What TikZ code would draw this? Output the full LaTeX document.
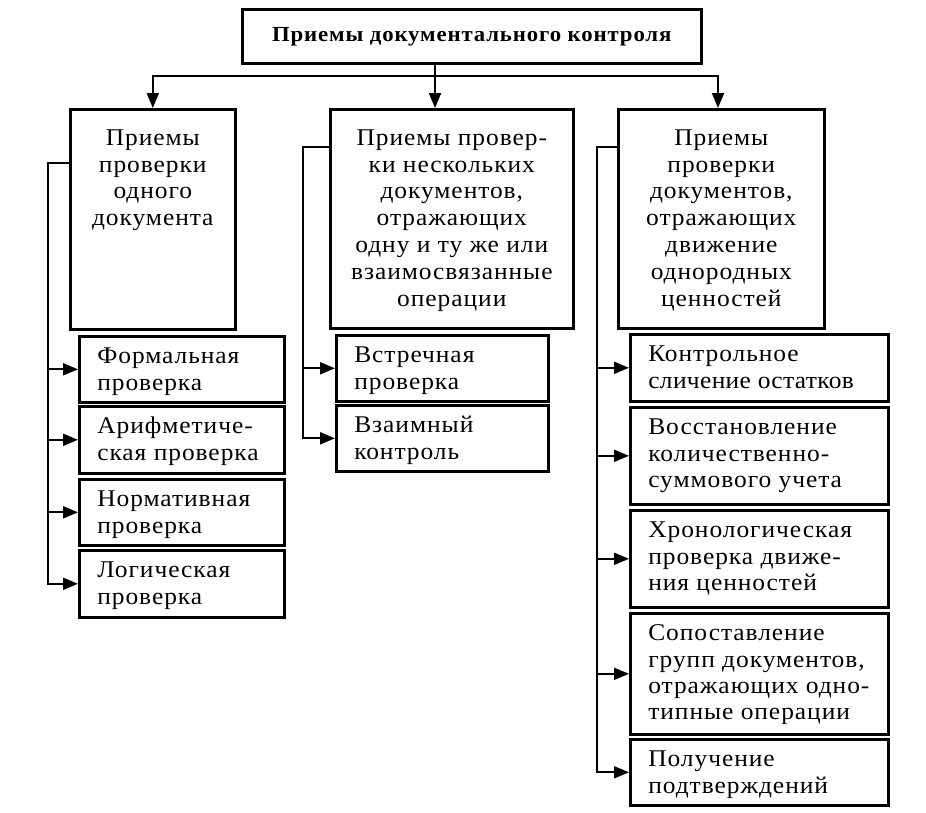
\documentclass[tikz,border=0pt]{standalone}
\usepackage{fontspec}
\setmainfont{Liberation Serif}[FakeStretch=1.06, LetterSpace=4]
\usetikzlibrary{arrows.meta}
\newcommand{\ptext}[3]{\parbox[t][#2][t]{#1}{\fontsize{24}{26.8}\selectfont\centering\rule{0pt}{36pt}#3}}
\newcommand{\ctext}[3]{\parbox[t][#2][t]{#1}{\fontsize{24}{26.3}\selectfont\raggedright\leftskip=18pt\rule{0pt}{27.5pt}#3}}
\tikzset{
  box/.style={draw, line width=2.6pt, inner sep=0pt, anchor=north west},
  link/.style={line width=2pt},
  arr/.style={link, -{Triangle[length=15pt,width=12pt]}}
}
\begin{document}
\begin{tikzpicture}[x=1pt,y=-1pt]
\useasboundingbox (0,0) rectangle (926,812);
% title
\node[box] (title) at (241,8) {\parbox[c][54pt][c]{459pt}{\centering\fontsize{21.5}{26}\selectfont\bfseries Приемы документального контроля}};
% parent boxes
\node[box] (A) at (69,108) {\ptext{165pt}{220pt}{Приемы\\проверки\\одного\\документа}};
\node[box] (B) at (329,108) {\ptext{243pt}{219pt}{Приемы провер-\\ки нескольких\\документов,\\отражающих\\одну и ту же или\\взаимосвязанные\\операции}};
\node[box] (C) at (617,108) {\ptext{206pt}{219pt}{Приемы\\проверки\\документов,\\отражающих\\движение\\однородных\\ценностей}};
% children of A
\node[box] (a1) at (78,335) {\ctext{205pt}{66pt}{Формальная\\проверка}};
\node[box] (a2) at (78,405) {\ctext{205pt}{67pt}{Арифметиче-\\ская проверка}};
\node[box] (a3) at (78,478) {\ctext{205pt}{66pt}{Нормативная\\проверка}};
\node[box] (a4) at (78,549) {\ctext{205pt}{67pt}{Логическая\\проверка}};
% children of B
\node[box] (b1) at (335,334) {\ctext{212pt}{66pt}{Встречная\\проверка}};
\node[box] (b2) at (335,404) {\ctext{212pt}{66pt}{Взаимный\\контроль}};
% children of C
\node[box] (c1) at (629,333) {\ctext{258pt}{67pt}{Контрольное\\{\addfontfeature{LetterSpace=1.5}сличение остатков}}};
\node[box] (c2) at (629,406) {\ctext{258pt}{97pt}{Восстановление\\количественно-\\суммового учета}};
\node[box] (c3) at (629,509) {\ctext{258pt}{97pt}{Хронологическая\\проверка движе-\\ния ценностей}};
\node[box] (c4) at (629,612) {\ctext{258pt}{121pt}{Сопоставление\\групп документов,\\отражающих одно-\\типные операции}};
\node[box] (c5) at (629,738) {\ctext{258pt}{66pt}{Получение\\подтверждений}};
% top connectors
\coordinate (j) at (435,76);
\coordinate (jc) at (718,76);
\draw[arr] (j |- title.south) -- (j |- B.north);
\draw[arr] (j) -| (A.north);
\draw[arr] (j) -- (jc) -- (jc |- C.north);
% spines
\coordinate (sa) at (48,163);
\coordinate (sb) at (303,147);
\coordinate (sc) at (597,147);
\draw[arr] (A.west |- sa) -- (sa) |- (a4.west);
\draw[arr] (sa |- a1.west) -- (a1.west);
\draw[arr] (sa |- a2.west) -- (a2.west);
\draw[arr] (sa |- a3.west) -- (a3.west);
\draw[arr] (B.west |- sb) -- (sb) |- (b2.west);
\draw[arr] (sb |- b1.west) -- (b1.west);
\draw[arr] (C.west |- sc) -- (sc) |- (c5.west);
\draw[arr] (sc |- c1.west) -- (c1.west);
\draw[arr] (sc |- c2.west) -- (c2.west);
\draw[arr] (sc |- c3.west) -- (c3.west);
\draw[arr] (sc |- c4.west) -- (c4.west);
\end{tikzpicture}
\end{document}
